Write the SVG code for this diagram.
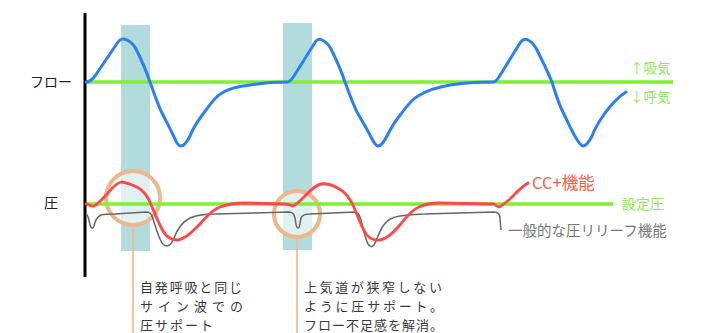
<svg xmlns="http://www.w3.org/2000/svg" width="703" height="333" viewBox="0 0 703 333">
<style>
.t{font-family:"Noto Sans CJK JP","Noto Sans",sans-serif}
.lbl{font-size:14px;fill:#222}
.note{font-size:13px;fill:#3a3a3a}
.g{fill:#8fe85c;font-size:13.5px}
.bar{fill:#b2dcdc}
.ring{fill:#ffffff;fill-opacity:0.6;stroke:#eeb68c;stroke-width:4}
.lead{stroke:#f7b48c;stroke-width:1.6}
.base{stroke:#80f030;stroke-width:3.5}
.flow{fill:none;stroke:#2b7ff5;stroke-width:3;stroke-linecap:round;stroke-linejoin:round}
.cc{fill:none;stroke:#ff4848;stroke-width:2.8;stroke-linecap:round;stroke-linejoin:round}
.rel{fill:none;stroke:#666;stroke-width:1.5;stroke-linejoin:round}
</style>
<rect width="703" height="333" fill="#fff"/>
<g id="bars">
<rect class="bar" x="121" y="25" width="29" height="226"/>
<rect class="bar" x="283" y="23" width="29" height="227"/>
</g>
<g id="callouts">
<circle class="ring" cx="133" cy="198" r="27"/>
<circle class="ring" cx="297" cy="214" r="23"/>
<line class="lead" x1="133" y1="226" x2="133" y2="333"/>
<line class="lead" x1="297" y1="238" x2="297" y2="333"/>
</g>
<g id="baselines">
<line class="base" x1="85" y1="82" x2="673" y2="82"/>
<line class="base" x1="85" y1="204" x2="613" y2="204"/>
</g>
<g id="axis">
<line x1="85" y1="13" x2="85" y2="277" stroke="#000" stroke-width="3"/>
</g>
<g id="connectors">
<path class="flow" d="M86,82 C90,82 92,80 95,76 L118,42 C120,39 124,38 127,40 C131,42 134,45 136,49 C140,57 146,70 150,82 C154,93 158,105 162,113 C166,121 171,130 175,139 C177,144 179,146 181,146 C184,146 187,142 190,136 C193,128 199,119 206,110 C211,103 216,96 222,93 C230,88 240,86 250,85 C262,83 275,82 287,82 C290,82 292,79 294,76 L314,44 C316,40 319,38 322,40 C326,42 329,45 331,49 C335,57 341,70 345,82 C349,93 353,104 357,112 C362,121 367,129 371,137 C374,143 376,146 378,146 C381,146 384,142 387,136 C391,128 395,121 401,114 C406,107 411,100 418,96 C426,91 438,87 450,85 C462,83 475,82 493,82 C495,82 497,80 499,77 L520,43 C522,40 525,38 528,40 C532,42 535,46 537,50 C541,58 547,70 552,82 C555,92 558,102 562,110 C567,120 571,130 576,138 C579,143 581,146 583,146 C586,146 589,142 592,136 C595,128 600,120 605,113 C611,105 618,97 626,92"/>
<path class="rel" d="M86,214 C88,214 89,220 90,225 C91,229 93,229 94,226 C95,221 97,217 101,215 C105,214 110,214 115,214 L146,212 C149,212 151,213 152,216 C154,222 157,232 160,239 C162,244 164,246 167,246 C170,246 172,243 174,238 C177,230 182,222 190,218 C197,215 205,214 215,214 L289,212 C292,212 294,213 295,218 C296,224 296,228 298,228 C300,228 300,222 301,218 C302,215 305,214 310,214 L355,212 C358,212 359,214 361,220 C363,228 365,238 368,244 C370,247 372,247 374,245 C377,240 379,232 383,226 C387,220 392,217 400,216 C408,215 415,214 425,214 L494,212 C498,212 500,214 500,219 L501,230"/>
<path class="cc" d="M86,204 C89,204 91,207 94,206 C97,205 102,199 108,193 C112,188 116,183 121,182 C126,182 132,185 137,187 C142,190 146,194 149,200 C153,209 158,222 163,231 C167,238 171,240 177,240 C183,240 190,234 197,227 C204,220 211,210 220,207 C228,204 236,203 245,203 L285,204 C289,204 291,206 293,206 C296,205 300,201 305,196 C310,191 315,185 321,184 C327,183 335,186 341,190 C347,194 350,199 353,205 C357,214 361,226 366,234 C370,239 374,241 380,240 C386,239 393,233 399,226 C405,219 411,210 419,207 C425,204 431,203 440,203 L493,204 C495,204 497,207 499,207 C502,206 506,202 510,199 C515,194 520,188 528,183"/>
</g>
<g id="labels" class="t">
<text class="lbl" x="30" y="87">フロー</text>
<text class="lbl" x="44" y="208">圧</text>
<text class="g" x="630" y="73">↑吸気</text>
<text class="g" x="630" y="102">↓呼気</text>
<text x="532" y="189" font-size="16.5" fill="#ff5c40">CC+機能</text>
<text x="622" y="209" font-size="14" fill="#8fe85c">設定圧</text>
<text x="508" y="236" font-size="14.5" fill="#777">一般的な圧リリーフ機能</text>
</g>
<g id="notes" class="t">
<text class="note" x="140" y="292" textLength="102" lengthAdjust="spacing">自発呼吸と同じ</text>
<text class="note" x="140" y="311" textLength="103" lengthAdjust="spacing">サイン波での</text>
<text class="note" x="140" y="330" textLength="73" lengthAdjust="spacing">圧サポート</text>
<text class="note" x="304" y="292" textLength="138" lengthAdjust="spacing">上気道が狭窄しない</text>
<text class="note" x="304" y="311" textLength="139" lengthAdjust="spacing">ように圧サポート。</text>
<text class="note" x="304" y="330" textLength="139" lengthAdjust="spacing">フロー不足感を解消。</text>
</g>
</svg>
